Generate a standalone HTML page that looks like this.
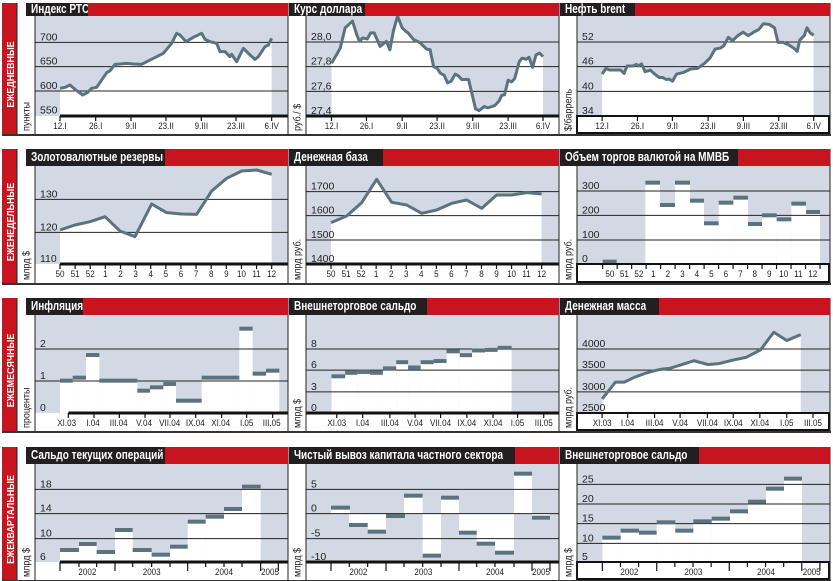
<!DOCTYPE html>
<html><head><meta charset="utf-8"><style>
body{margin:0;background:#fff;width:833px;height:581px;overflow:hidden;position:relative;font-family:"Liberation Sans",sans-serif}
svg{position:absolute;left:0;top:0}
.hd{position:absolute;background:#c8141e}
.tab{position:absolute;left:0;top:0;bottom:0;background:#231f20;color:#fff;font:bold 12.5px "Liberation Sans",sans-serif;padding-left:5px;white-space:nowrap;overflow:hidden}
.tab span{display:inline-block;transform:scaleX(0.8);transform-origin:0 50%}
</style></head><body>
<svg id="s" width="833" height="581" xmlns="http://www.w3.org/2000/svg"></svg>
<div id="h"></div>
<script>
const R=[{t:3,hb:16,ax:116,b:134,lab:'ЕЖЕДНЕВНЫЕ'},{t:149,hb:166,ax:264,b:283,lab:'ЕЖЕНЕДЕЛЬНЫЕ'},{t:298,hb:315,ax:413,b:431,lab:'ЕЖЕМЕСЯЧНЫЕ'},{t:447,hb:464,ax:562,b:580,lab:'ЕЖЕКВАРТАЛЬНЫЕ'}];
const C=[{x0:17,pl:35,x1:288},{x0:288,pl:306,x1:559},{x0:559,pl:577,x1:830}];
const sx=(o,s)=>v=>o+v/s, sy=(o,s)=>v=>o+v/s, L=(a,A,b,B)=>v=>A+(v-a)*(B-A)/(b-a);
const BG='#d2d9e4',SER='#5c727e';
let g='',hh='';
function T(x,y,t,o){return `<text x="${x}" y="${y}" ${o||''}>${t}</text>`;}
function chart(o){
 const r=R[o.r],c=C[o.c],mx=o.mx,my=o.my;
 const pw=c.x1-c.pl;
 hh+=`<div class="hd" style="left:${o.hs}px;top:${r.t}px;width:${c.x1-o.hs}px;height:${r.hb-r.t}px"><div class="tab" style="width:${o.tw-5}px;line-height:${r.hb-r.t}px"><span>${o.title}</span></div></div>`;
 g+=`<rect x="${c.pl}" y="${r.hb}" width="${pw}" height="${r.ax-r.hb}" fill="${BG}"/>`;
 if(o.line){const p=o.line.map(q=>[mx(q[0]),my(q[1])]);
  g+=`<polygon points="${p[0][0]},${r.ax} ${p.map(q=>q.join(',')).join(' ')} ${p[p.length-1][0]},${r.ax}" fill="#fff"/>`;}
 if(o.bars){const base=o.base!==undefined?my(o.base):r.ax;
  o.bars.forEach(b=>{const y=my(b[2]);g+=`<rect x="${mx(b[0])}" y="${Math.min(y,base)}" width="${mx(b[1])-mx(b[0])}" height="${Math.abs(base-y)}" fill="#fff"/>`;});}
 o.grids.forEach(q=>{const y=my(q[0]);if(Math.abs(y-r.ax)>2)g+=`<line x1="${c.pl}" x2="${c.x1}" y1="${y}" y2="${y}" stroke="#222" stroke-width="1"/>`;
  g+=T(c.pl+5,Math.min(y,r.ax)-2,q[1],'font-size="10.5" fill="#222"');});
 if(o.line){g+=`<polyline points="${o.line.map(q=>mx(q[0])+','+my(q[1])).join(' ')}" fill="none" stroke="${SER}" stroke-width="3" stroke-linejoin="round"/>`;}
 if(o.bars){o.bars.forEach(b=>{g+=`<rect x="${mx(b[0])}" y="${my(b[2])-2}" width="${mx(b[1])-mx(b[0])}" height="4" fill="${SER}"/>`;});}
 const ax0=o.c==0?mx(o.ticks[0]):c.pl;
 if(o.c==2){g+=`<rect x="${c.pl}" y="${r.ax}" width="${pw-1}" height="${r.b-r.ax-1}" fill="none" stroke="#111" stroke-width="2"/>`;}
 else g+=`<rect x="${ax0}" y="${r.ax-1.5}" width="${c.x1-ax0}" height="3" fill="#111"/>`;
 o.ticks.forEach(t=>{const x=mx(t);const big=o.seps&&o.seps.includes(t);g+=`<line x1="${x}" x2="${x}" y1="${r.ax}" y2="${r.ax+(big?9:5)}" stroke="#111" stroke-width="1.2"/>`;});
 (o.tl||[]).forEach(q=>{const x=mx(q[0]);g+=`<text transform="translate(${x},${r.ax+13}) scale(0.85,1)" font-size="9.5" text-anchor="middle" fill="#222">${q[1]}</text>`;});
 const cx=(c.x0+c.pl)/2;
 g+=`<text transform="translate(${cx+3.5},${r.b-3}) rotate(-90) scale(0.9,1)" font-size="10" fill="#222">${o.ylab}</text>`;
 g+=`<line x1="${c.pl}" x2="${c.pl}" y1="${r.hb}" y2="${r.b}" stroke="#222" stroke-width="1"/>`;
 g+=`<line x1="${c.x1}" x2="${c.x1}" y1="${r.t}" y2="${r.b}" stroke="#222" stroke-width="1"/>`;
}
const m3=(ox,oy)=>({mx:sx(ox,3),my:sy(oy,3)});
const wk=['50','51','52','1','2','3','4','5','6','7','8','9','10','11','12'];
const mo=['XI.03','I.04','III.04','V.04','VII.04','IX.04','XI.04','I.05','III.05'];
const d1=['12.I','26.I','9.II','23.II','9.III','23.III','6.IV'];
chart({r:0,c:0,hs:26,tw:62,title:'Индекс РТС',ylab:'пункты',...m3(0,0),
 grids:[[127,'700'],[200,'650'],[273,'600'],[346,'550']],ticks:[180,287,393,498,604,708,815],
 tl:[180,287,393,498,604,708,815].map((x,i)=>[x,d1[i]]),
 line:[[180,265],[195,262],[210,255],[225,268],[248,285],[262,278],[275,265],[290,262],[320,218],[330,212],[345,193],[360,192],[380,190],[400,192],[425,193],[440,185],[470,170],[490,160],[515,130],[530,100],[540,105],[558,125],[580,112],[605,100],[615,118],[630,125],[650,130],[660,155],[675,155],[690,170],[695,163],[710,185],[730,145],[745,160],[765,178],[775,170],[795,140],[805,135],[815,115]]});
const mr1={mx:sx(285,2.86),my:L(127,42,346,116)};
chart({r:0,c:1,hs:289,tw:76,title:'Курс доллара',ylab:'руб./ $',...mr1,
 grids:[[127,'28,0'],[200,'27,8'],[273,'27,6'],[346,'27,4']],ticks:[133,233,335,435,537,638,738],
 tl:[133,233,335,435,537,638,738].map((x,i)=>[x,d1[i]]),
 line:[[133,190],[150,160],[158,145],[172,85],[193,65],[205,105],[213,125],[222,115],[235,118],[245,100],[255,100],[272,140],[290,125],[300,150],[310,95],[322,50],[335,85],[345,95],[352,100],[368,120],[385,128],[405,148],[415,150],[425,200],[435,205],[445,220],[455,225],[465,248],[475,243],[487,222],[497,228],[505,238],[525,238],[537,290],[545,325],[555,330],[570,318],[580,322],[600,315],[612,302],[620,285],[628,283],[638,240],[648,245],[657,235],[670,185],[678,175],[690,178],[698,172],[708,202],[718,165],[728,160],[738,170]]});
chart({r:0,c:2,hs:560,tw:75,title:'Нефть brent',ylab:'$/баррель',...mr1,
 grids:[[127,'52'],[200,'46'],[273,'40'],[346,'34']],ticks:[907,1008,1108,1210,1311,1412,1512],
 tl:[907,1008,1108,1210,1311,1412,1512].map((x,i)=>[x,d1[i]]),
 line:[[907,222],[918,205],[928,210],[945,210],[960,210],[970,220],[978,198],[995,198],[1005,193],[1010,198],[1020,192],[1030,215],[1045,210],[1055,220],[1070,232],[1080,232],[1090,238],[1100,237],[1108,243],[1120,222],[1140,217],[1160,207],[1180,205],[1200,190],[1215,175],[1230,148],[1245,145],[1255,138],[1268,113],[1280,123],[1295,108],[1310,98],[1325,108],[1340,98],[1355,90],[1368,73],[1385,75],[1400,85],[1410,128],[1425,128],[1440,135],[1455,145],[1465,155],[1472,122],[1485,108],[1493,85],[1502,100],[1512,107]]});
let t21=wk.map((w,i)=>180+i*45.36);
chart({r:1,c:0,hs:26,tw:139,title:'Золотовалютные резервы',ylab:'млрд $',...m3(0,140),
 grids:[[178,'130'],[277,'120'],[372,'110']],ticks:t21,tl:t21.map((x,i)=>[x,wk[i]]),
 line:[[180,270],[225,255],[270,245],[315,230],[360,273],[405,290],[455,192],[500,218],[545,222],[590,223],[635,153],[680,115],[725,93],[770,90],[815,103]]});
let t22=wk.map((w,i)=>138+i*45.14);
chart({r:1,c:1,hs:289,tw:94,title:'Денежная база',ylab:'млрд руб.',...m3(285,140),
 grids:[[155,'1700'],[227,'1600'],[300,'1500'],[372,'1400']],ticks:t22,tl:t22.map((x,i)=>[x,wk[i]]),
 line:[[138,248],[185,228],[230,188],[275,118],[320,187],[365,195],[410,220],[455,210],[500,190],[545,180],[590,205],[635,165],[680,165],[725,158],[770,162]]});
let t23=[];for(let i=0;i<16;i++)t23.push(188+i*43.47);
chart({r:1,c:2,hs:560,tw:178,title:'Объем торгов валютой на ММВБ',ylab:'млрд руб.',...m3(540,140),
 grids:[[153,'300'],[226,'200'],[300,'100'],[372,'0']],ticks:t23,tl:wk.map((w,i)=>[t23[i]+21.7,w]),
 bars:[[188,230,365],[316,360,128],[360,405,195],[405,450,128],[450,492,182],[492,536,250],[536,580,188],[580,624,173],[624,666,252],[666,710,226],[710,754,238],[754,798,191],[798,840,216]]});
let t31=[205,282,358,435,510,587,665,740,818];
chart({r:2,c:0,hs:26,tw:57,title:'Инфляция',ylab:'проценты',...m3(0,290),
 grids:[[177,'2'],[273,'1'],[370,'0']],ticks:t31,tl:[200,279,356,432,509,586,662,740,815].map((x,i)=>[x,mo[i]]),
 bars:[[180,218,272],[218,258,263],[258,298,195],[298,412,272],[412,450,302],[450,490,292],[490,528,282],[528,605,332],[605,718,263],[718,758,116],[758,798,251],[798,838,242]]});
const mr3={mx:sx(285,2.86),my:L(152,349,370,413)};
let t32=[148,222,300,372,445,520,595,665,740];
chart({r:2,c:1,hs:289,tw:138,title:'Внешнеторговое сальдо',ylab:'млрд $',...mr3,
 grids:[[152,'8'],[224,'6'],[298,'3'],[370,'0']],ticks:t32,tl:t32.map((x,i)=>[x,mo[i]]),
 bars:[[133,172,245],[172,207,233],[207,243,230],[243,280,233],[280,318,218],[318,352,197],[352,388,215],[388,425,197],[425,462,193],[462,500,160],[500,535,173],[535,572,157],[572,608,155],[608,648,148]]});
let t33=[907,980,1057,1130,1208,1282,1358,1435,1510];
chart({r:2,c:2,hs:560,tw:99,title:'Денежная масса',ylab:'млрд руб.',...mr3,
 grids:[[152,'4000'],[224,'3500'],[298,'3000'],[370,'2500']],ticks:t33,tl:t33.map((x,i)=>[x,mo[i]]),
 line:[[907,322],[945,265],[970,265],[1000,248],[1030,235],[1060,225],[1080,220],[1100,218],[1135,205],[1170,192],[1210,205],[1240,202],[1280,190],[1320,180],[1360,155],[1398,95],[1435,123],[1475,103]]});
chart({r:3,c:0,hs:26,tw:139,title:'Сальдо текущих операций',ylab:'млрд $',...m3(0,440),
 grids:[[148,'18'],[221,'14'],[296,'10'],[367,'6']],ticks:[180,237,290,345,398,455,510,563,617,672,726,782,835],seps:[180,345,563,782,835],
 tl:[[262,'2002'],[455,'2003'],[672,'2004'],[810,'2005']],
 bars:[[180,237,330],[237,290,312],[290,345,336],[345,398,270],[398,455,330],[455,510,344],[510,563,320],[563,617,245],[617,672,230],[672,726,207],[726,782,140]]});
chart({r:3,c:1,hs:289,tw:226,title:'Чистый вывоз капитала частного сектора',ylab:'млрд $',...m3(280,440),base:221,
 grids:[[148,'5'],[221,'0'],[296,'-5'],[367,'-10']],ticks:[153,208,263,318,372,428,483,537,590,645,702,756,810],seps:[153,318,537,756,810],
 tl:[[235,'2002'],[430,'2003'],[645,'2004'],[783,'2005']],
 bars:[[153,210,203],[207,263,255],[263,318,275],[318,375,228],[372,428,167],[428,483,347],[483,537,173],[537,590,278],[590,645,311],[645,702,338],[702,756,101],[756,810,233]]});
let t43=[];for(let i=0;i<13;i++)t43.push(187+i*54.4);
chart({r:3,c:2,hs:560,tw:139,title:'Внешнеторговое сальдо',ylab:'млрд $',...m3(540,440),
 grids:[[133,'25'],[192,'20'],[251,'15'],[310,'10'],[367,'5']],ticks:t43,seps:[t43[0],t43[3],t43[7],t43[11],t43[12]],
 tl:[[268,'2002'],[460,'2003'],[678,'2004'],[815,'2005']],
 bars:[[187,242,293],[242,297,272],[297,350,278],[350,406,247],[406,460,272],[460,515,244],[515,570,236],[570,624,214],[624,678,185],[678,732,146],[732,786,116]]});
R.forEach(r=>{
 g+=`<rect x="2" y="${r.t}" width="15" height="${r.b-r.t}" fill="#c8141e"/>`;
 g+=`<line x1="17" x2="17" y1="${r.t}" y2="${r.b}" stroke="#222" stroke-width="1"/>`;
 g+=`<rect x="2" y="${r.b}" width="829" height="2" fill="#333"/>`;
 const cy=(r.t+r.b)/2+6;
 g+=`<text transform="translate(14,${cy}) rotate(-90) scale(0.85,1)" text-anchor="middle" font-size="10.5" font-weight="bold" fill="#fff">${r.lab}</text>`;
});
document.getElementById('s').innerHTML=g;
document.getElementById('h').innerHTML=hh;
</script>
</body></html>
